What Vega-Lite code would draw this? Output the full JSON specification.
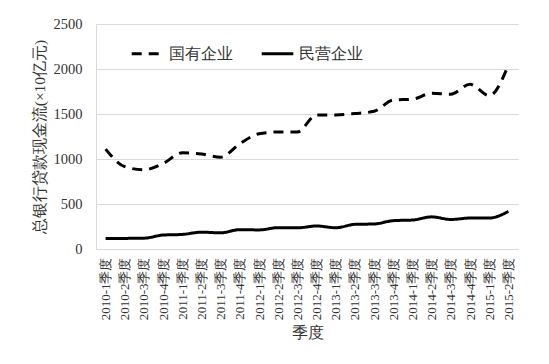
{
  "$schema": "https://vega.github.io/schema/vega-lite/v6.json",
  "width": 422,
  "height": 225,
  "autosize": {"type": "none"},
  "padding": {"left": 96, "top": 24, "right": 31, "bottom": 115},
  "background": "white",
  "config": {
    "font": "Liberation Serif",
    "view": {"stroke": null},
    "axis": {"labelFont": "Liberation Serif", "titleFont": "Liberation Serif", "labelColor": "#333333", "titleColor": "#333333", "titleFontWeight": "normal"},
    "legend": {"labelFont": "Liberation Serif"}
  },
  "data": {
    "values": [
      {"quarter": "2010-1季度", "series": "国有企业", "value": 1110},
      {"quarter": "2010-2季度", "series": "国有企业", "value": 915},
      {"quarter": "2010-3季度", "series": "国有企业", "value": 880},
      {"quarter": "2010-4季度", "series": "国有企业", "value": 950},
      {"quarter": "2011-1季度", "series": "国有企业", "value": 1070},
      {"quarter": "2011-2季度", "series": "国有企业", "value": 1055},
      {"quarter": "2011-3季度", "series": "国有企业", "value": 1020},
      {"quarter": "2011-4季度", "series": "国有企业", "value": 1170},
      {"quarter": "2012-1季度", "series": "国有企业", "value": 1280},
      {"quarter": "2012-2季度", "series": "国有企业", "value": 1300},
      {"quarter": "2012-3季度", "series": "国有企业", "value": 1300},
      {"quarter": "2012-4季度", "series": "国有企业", "value": 1490},
      {"quarter": "2013-1季度", "series": "国有企业", "value": 1490},
      {"quarter": "2013-2季度", "series": "国有企业", "value": 1505},
      {"quarter": "2013-3季度", "series": "国有企业", "value": 1530},
      {"quarter": "2013-4季度", "series": "国有企业", "value": 1655},
      {"quarter": "2014-1季度", "series": "国有企业", "value": 1665},
      {"quarter": "2014-2季度", "series": "国有企业", "value": 1730},
      {"quarter": "2014-3季度", "series": "国有企业", "value": 1720},
      {"quarter": "2014-4季度", "series": "国有企业", "value": 1830},
      {"quarter": "2015-1季度", "series": "国有企业", "value": 1705},
      {"quarter": "2015-2季度", "series": "国有企业", "value": 2045},
      {"quarter": "2010-1季度", "series": "民营企业", "value": 118},
      {"quarter": "2010-2季度", "series": "民营企业", "value": 118},
      {"quarter": "2010-3季度", "series": "民营企业", "value": 120},
      {"quarter": "2010-4季度", "series": "民营企业", "value": 155},
      {"quarter": "2011-1季度", "series": "民营企业", "value": 162},
      {"quarter": "2011-2季度", "series": "民营企业", "value": 187},
      {"quarter": "2011-3季度", "series": "民营企业", "value": 180},
      {"quarter": "2011-4季度", "series": "民营企业", "value": 215},
      {"quarter": "2012-1季度", "series": "民营企业", "value": 212},
      {"quarter": "2012-2季度", "series": "民营企业", "value": 237},
      {"quarter": "2012-3季度", "series": "民营企业", "value": 235},
      {"quarter": "2012-4季度", "series": "民营企业", "value": 256},
      {"quarter": "2013-1季度", "series": "民营企业", "value": 236},
      {"quarter": "2013-2季度", "series": "民营企业", "value": 274},
      {"quarter": "2013-3季度", "series": "民营企业", "value": 278},
      {"quarter": "2013-4季度", "series": "民营企业", "value": 315},
      {"quarter": "2014-1季度", "series": "民营企业", "value": 322},
      {"quarter": "2014-2季度", "series": "民营企业", "value": 357},
      {"quarter": "2014-3季度", "series": "民营企业", "value": 328},
      {"quarter": "2014-4季度", "series": "民营企业", "value": 344},
      {"quarter": "2015-1季度", "series": "民营企业", "value": 344},
      {"quarter": "2015-2季度", "series": "民营企业", "value": 418}
    ]
  },
  "mark": {"type": "line", "interpolate": "monotone", "strokeWidth": 3},
  "encoding": {
    "x": {
      "field": "quarter",
      "type": "ordinal",
      "sort": null,
      "title": "季度",
      "scale": {"paddingInner": 0, "paddingOuter": 0.5},
      "axis": {"labelAngle": -90, "labelFontSize": 13, "ticks": false, "domainColor": "#d9d9d9", "labelPadding": 8, "titleFontSize": 16, "titlePadding": 5}
    },
    "y": {
      "field": "value",
      "type": "quantitative",
      "title": "总银行贷款现金流(×10亿元)",
      "scale": {"domain": [0, 2500]},
      "axis": {"values": [0, 500, 1000, 1500, 2000, 2500], "format": "d", "labelFontSize": 14.5, "ticks": false, "domainColor": "#d9d9d9", "gridColor": "#d9d9d9", "labelPadding": 14, "titleFontSize": 15.5, "titlePadding": 6}
    },
    "color": {
      "field": "series",
      "type": "nominal",
      "scale": {"domain": ["国有企业", "民营企业"], "range": ["black", "black"]},
      "legend": {
        "orient": "none",
        "legendX": 34,
        "legendY": 12,
        "direction": "horizontal",
        "title": null,
        "symbolType": "stroke",
        "symbolSize": 1000,
        "symbolStrokeWidth": 3,
        "labelFontSize": 16,
        "labelColor": "#333333",
        "columnPadding": 22,
        "labelOffset": 4
      }
    },
    "strokeDash": {
      "field": "series",
      "type": "nominal",
      "scale": {"domain": ["国有企业", "民营企业"], "range": [[10, 7], [1, 0]]},
      "legend": null
    }
  }
}
